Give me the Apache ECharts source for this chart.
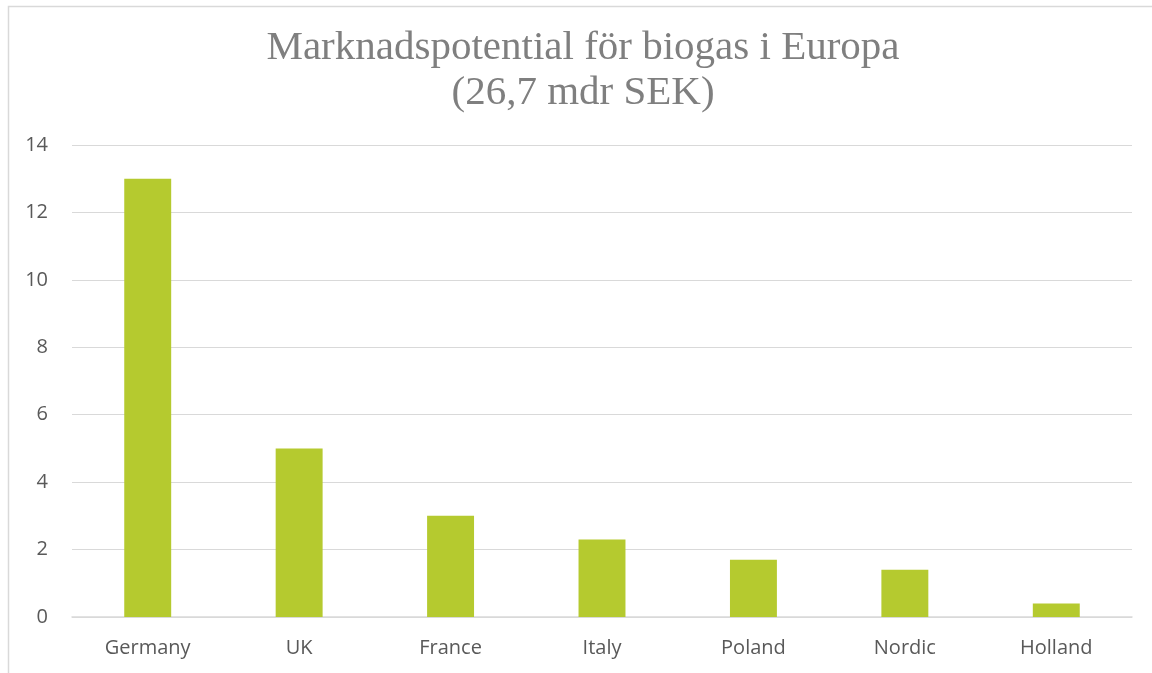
<!DOCTYPE html>
<html><head><meta charset="utf-8">
<script src="https://cdn.jsdelivr.net/npm/echarts@6/dist/echarts.min.js"></script>
<style>html,body{margin:0;padding:0;background:#fff}#c{width:1152px;height:673px}</style>
</head><body><div id="c"></div>
<script>
const titleLines = ['Marknadspotential för biogas i Europa', '(26,7 mdr SEK)'];
const categories = ['Germany', 'UK', 'France', 'Italy', 'Poland', 'Nordic', 'Holland'];
const values = [13, 5, 3, 2.3, 1.7, 1.4, 0.4];
const yTicks = [0, 2, 4, 6, 8, 10, 12, 14];

const chart = echarts.init(document.getElementById('c'));
chart.setOption({
  animation: false,
  graphic: [{
    type: 'rect', shape: { x: 8.5, y: 6.5, width: 1200, height: 700 },
    style: { fill: 'none', stroke: '#d9d9d9', lineWidth: 1.5 }, silent: true
  }],
  title: {
    text: titleLines.join('\n'), left: 583, top: 26, padding: 0, textAlign: 'center',
    textStyle: { fontFamily: 'Liberation Serif', fontSize: 41, fontWeight: 'normal', color: '#7f7f7f', lineHeight: 45 }
  },
  grid: { left: 72, right: 20, top: 145, bottom: 56, containLabel: false },
  xAxis: {
    type: 'category', data: categories,
    axisLine: { lineStyle: { color: '#d9d9d9', width: 1.5 } },
    axisTick: { show: false },
    axisLabel: { fontFamily: 'Open Sans', fontSize: 20, color: '#595959', margin: 21 }
  },
  yAxis: {
    type: 'value', min: yTicks[0], max: yTicks[yTicks.length - 1], interval: 2,
    axisLine: { show: false }, axisTick: { show: false },
    splitLine: { lineStyle: { color: '#d9d9d9', width: 1 } },
    axisLabel: { fontFamily: 'Open Sans', fontSize: 20, color: '#595959', margin: 24 }
  },
  series: [{
    type: 'bar', data: values, barWidth: '31%',
    itemStyle: { color: '#b5ca2f' }
  }]
});
</script></body></html>
